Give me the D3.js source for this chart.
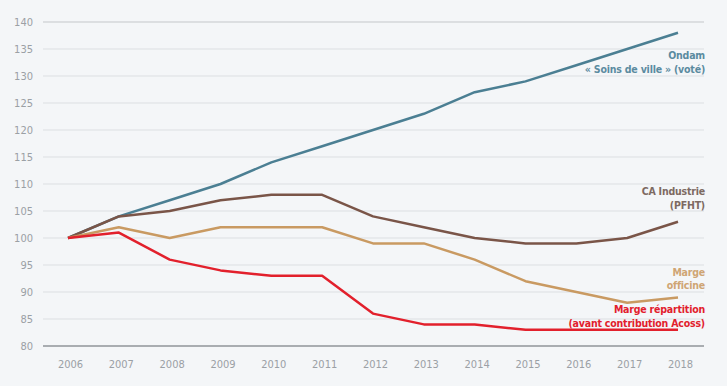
<!DOCTYPE html>
<html>
<head>
<meta charset="utf-8">
<script src="https://cdn.jsdelivr.net/npm/d3@7"></script>
<style>
html,body{margin:0;padding:0;background:#f4f6f8;}
svg{display:block;}
</style>
</head>
<body>
<svg id="chart" width="727" height="386"></svg>
<script>
const years = [2006,2007,2008,2009,2010,2011,2012,2013,2014,2015,2016,2017,2018];
const ondam = [100,104,107,110,114,117,120,123,127,129,132,135,138];
const caIndustrie = [100,104,105,107,108,108,104,102,100,99,99,100,103];
const margeOfficine = [100,102,100,102,102,102,99,99,96,92,90,88,89];
const margeRepartition = [100,101,96,94,93,93,86,84,84,83,83,83,83];
const yTicks = [80,85,90,95,100,105,110,115,120,125,130,135,140];

const series = [
  {name:"ondam", values:ondam, color:"#4b7f93", labelColor:"#5b8ba0",
   label:["Ondam","« Soins de ville » (voté)"], labelY:[59,73]},
  {name:"ca", values:caIndustrie, color:"#7a5548", labelColor:"#7d6a62",
   label:["CA Industrie","(PFHT)"], labelY:[195,209]},
  {name:"officine", values:margeOfficine, color:"#c99a62", labelColor:"#cfa574",
   label:["Marge","officine"], labelY:[276,289]},
  {name:"repartition", values:margeRepartition, color:"#e2202c", labelColor:"#e2202c",
   label:["Marge répartition","(avant contribution Acoss)"], labelY:[313,327]}
];

const svg = d3.select("#chart");
const font = "'DejaVu Sans Condensed','DejaVu Sans',sans-serif";
svg.append("rect").attr("width",727).attr("height",386).attr("fill","#f4f6f8");

const x = d3.scaleLinear().domain([2006,2018]).range([68,678]);
const y = d3.scaleLinear().domain([80,140]).range([346,22]);
const gridX0 = 43, gridX1 = 704;

// gridlines
svg.append("g").selectAll("line").data(yTicks).join("line")
  .attr("x1",gridX0).attr("x2",gridX1)
  .attr("y1",d=>y(d)).attr("y2",d=>y(d))
  .attr("stroke",d=> d===80 ? "#a9adb1" : (d===140 ? "#c4c7ca" : "#dcdfe2"))
  .attr("stroke-width",d=> d===80 ? 2 : 1);

// y axis labels
const yAxis = d3.axisLeft(y).tickValues(yTicks).tickSize(0).tickPadding(0);
const gy = svg.append("g").attr("transform","translate(33,0)").call(yAxis);
gy.select(".domain").remove();
gy.selectAll("text").attr("fill","#9ba0a5").attr("font-family",font)
  .attr("font-size","11px").attr("dy","0.35em").attr("x",0);

// x axis labels
const xAxis = d3.axisBottom(x).tickValues(years).tickFormat(d3.format("d")).tickSize(0).tickPadding(0);
const gx = svg.append("g").attr("transform","translate(2,360)").call(xAxis);
gx.select(".domain").remove();
gx.selectAll("text").attr("fill","#9ba0a5").attr("font-family",font)
  .attr("font-size","11px").attr("dy","0.71em");

// lines
const line = d3.line().x((d,i)=>x(years[i])).y(d=>y(d));
svg.append("g").selectAll("path").data(series).join("path")
  .attr("d",d=>line(d.values))
  .attr("fill","none")
  .attr("stroke",d=>d.color)
  .attr("stroke-width",2.5)
  .attr("stroke-linejoin","round");

// labels
series.forEach(s=>{
  s.label.forEach((t,i)=>{
    svg.append("text").attr("x",705).attr("y",s.labelY[i])
      .attr("text-anchor","end").attr("font-family",font)
      .attr("font-weight","bold").attr("font-size","10.5px")
      .attr("letter-spacing","-0.2px")
      .attr("fill",s.labelColor).text(t);
  });
});
</script>
</body>
</html>
